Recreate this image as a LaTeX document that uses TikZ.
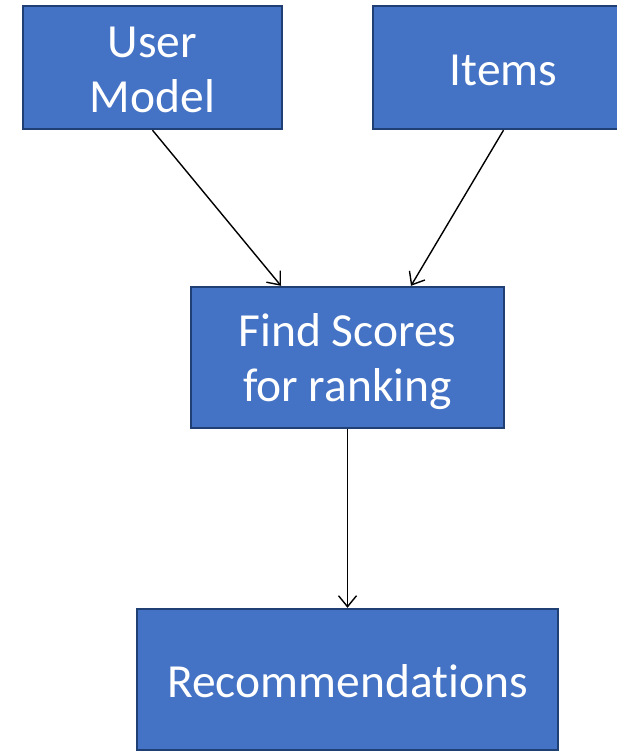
\documentclass[tikz,border=0pt]{standalone}
\usepackage{fontspec}
\setmainfont[Ligatures={NoCommon,NoRare,NoDiscretionary}]{Carlito}
\usetikzlibrary{calc,arrows.meta}
\definecolor{boxfill}{HTML}{4472C4}
\definecolor{boxline}{HTML}{203F74}
\begin{document}
\begin{tikzpicture}[x=1pt,y=-1pt,
  box/.style={draw=boxline,fill=boxfill,line width=2.4pt,inner sep=0pt},
  lbl/.style={text=white,align=center,inner sep=0pt,font=\fontsize{47.5}{55}\selectfont},
  conn/.style={draw=black,line width=1.4pt,-{Straight Barb[length=11pt,width=18pt,line width=1.4pt]}}]
\useasboundingbox (0,0) rectangle (616,752);
\node[box,minimum width=259pt,minimum height=123pt] (um) at (152.5,67.5) {};
\node[box,minimum width=261pt,minimum height=123pt] (it) at (503.5,67.5) {};
\node[box,minimum width=313pt,minimum height=141pt] (fs) at (347.5,357.5) {};
\node[box,minimum width=421pt,minimum height=141pt] (rec) at (347.5,679.5) {};
\node[lbl] (umt) at ($(um.center)+(0,2)$) {User\\Model};
\node[lbl] (itt) at ($(it.center)+(0,3)$) {Items};
\node[lbl] (fst) at ($(fs.center)+(0,4)$) {Find Scores\\for ranking};
\node[lbl] (rect) at ($(rec.center)+(0,2)$) {Recommendations};
\coordinate (t1) at ($(fs.north)+(-66.5,0)$);
\coordinate (t2) at ($(fs.north)+(63.5,0)$);
\draw[conn] (um.south) -- (t1);
\draw[conn] (it.south) -- (t2);
\draw[conn] (fs.south) -- (rec.north);
\end{tikzpicture}
\end{document}
